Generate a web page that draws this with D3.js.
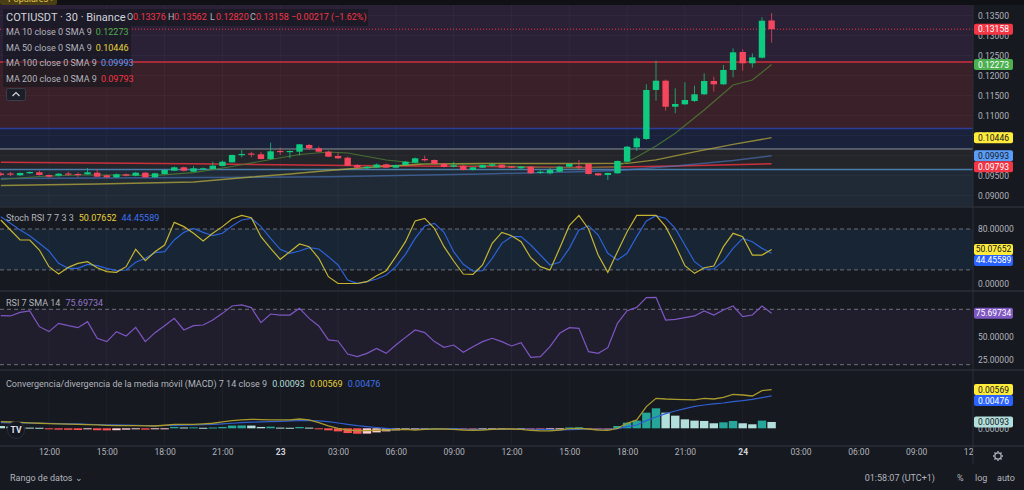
<!DOCTYPE html>
<html>
<script src="https://cdn.jsdelivr.net/npm/d3@7"></script>
<style>
  body, html { margin: 0; padding: 0; background: #16191f; }
  svg { display: block; font-family: Roboto, "Noto Sans", sans-serif; }
</style>
<body>
<svg width="1024" height="490"></svg>
<script>

// 30 min bars, 22 09:30 -> 24 01:30
var barStart = new Date(2023, 0, 22, 9, 30);

var opens = [0.09550,0.09550,0.09505,0.09555,0.09580,0.09513,0.09495,0.09550,0.09538,0.09530,
  0.09570,0.09505,0.09455,0.09530,0.09495,0.09570,0.09455,0.09538,0.09620,0.09705,
  0.09595,0.09655,0.09663,0.09738,0.09830,0.10013,0.10050,0.10030,0.09913,0.10113,
  0.10088,0.10095,0.10263,0.10180,0.10095,0.09988,0.09945,0.09763,0.09680,0.09700,
  0.09780,0.09695,0.09763,0.09820,0.09913,0.09888,0.09795,0.09720,0.09745,0.09638,
  0.09695,0.09745,0.09770,0.09730,0.09680,0.09720,0.09580,0.09555,0.09595,0.09720,
  0.09730,0.09788,0.09555,0.09513,0.09555,0.09845,0.10205,0.10413,0.11638,0.11870,
  0.11220,0.11280,0.11363,0.11530,0.11863,0.11780,0.12138,0.12588,0.12305,0.12445,
  0.13376];
var highs = [0.09588,0.09588,0.09575,0.09600,0.09625,0.09525,0.09563,0.09595,0.09575,0.09688,
  0.09663,0.09525,0.09550,0.09550,0.09588,0.09588,0.09570,0.09663,0.09725,0.09725,
  0.09738,0.09700,0.09845,0.09875,0.10025,0.10138,0.10095,0.10088,0.10320,0.10195,
  0.10125,0.10288,0.10288,0.10225,0.10125,0.10063,0.09975,0.09788,0.09738,0.09800,
  0.09800,0.09775,0.09863,0.09950,0.09995,0.09900,0.09813,0.09845,0.09763,0.09720,
  0.09775,0.09805,0.09788,0.09738,0.09738,0.09738,0.09638,0.09688,0.09738,0.09800,
  0.09888,0.09800,0.09563,0.09575,0.09875,0.10238,0.10470,0.11780,0.12370,0.11900,
  0.11680,0.11830,0.11745,0.12055,0.11970,0.12263,0.12680,0.12655,0.12555,0.13455,
  0.13562];
var lows = [0.09488,0.09488,0.09488,0.09538,0.09500,0.09450,0.09475,0.09488,0.09455,0.09525,
  0.09463,0.09438,0.09438,0.09475,0.09480,0.09438,0.09445,0.09525,0.09613,0.09600,
  0.09588,0.09638,0.09650,0.09725,0.09820,0.09955,0.09955,0.09900,0.09900,0.10013,
  0.09930,0.10000,0.10138,0.10075,0.09963,0.09913,0.09738,0.09688,0.09663,0.09688,
  0.09688,0.09680,0.09750,0.09813,0.09845,0.09775,0.09700,0.09705,0.09625,0.09625,
  0.09688,0.09720,0.09688,0.09680,0.09663,0.09545,0.09538,0.09525,0.09588,0.09700,
  0.09638,0.09525,0.09488,0.09388,0.09545,0.09838,0.10113,0.10388,0.11370,0.11120,
  0.11055,0.11263,0.11338,0.11513,0.11595,0.11763,0.11955,0.12120,0.12195,0.12425,
  0.12820];
var closes = [0.09513,0.09538,0.09563,0.09588,0.09513,0.09470,0.09545,0.09530,0.09525,0.09580,
  0.09470,0.09455,0.09530,0.09495,0.09570,0.09455,0.09555,0.09638,0.09705,0.09620,
  0.09680,0.09680,0.09745,0.09845,0.10013,0.10038,0.10025,0.09913,0.10105,0.10088,
  0.10113,0.10280,0.10180,0.10095,0.09970,0.09930,0.09745,0.09695,0.09720,0.09775,
  0.09695,0.09763,0.09845,0.09930,0.09880,0.09788,0.09713,0.09755,0.09638,0.09705,
  0.09763,0.09780,0.09695,0.09695,0.09720,0.09555,0.09595,0.09638,0.09720,0.09788,
  0.09720,0.09538,0.09505,0.09563,0.09863,0.10220,0.10430,0.11638,0.11870,0.11220,
  0.11288,0.11388,0.11530,0.11863,0.11780,0.12138,0.12580,0.12305,0.12455,0.13370,
  0.13158];

// moving averages: [bar index, price]
var ma10Pts = [[0,0.09400],[4,0.09475],[8,0.09513],[12,0.09513],[16,0.09505],[20,0.09570],[24,0.09725],
  [28,0.09900],[31,0.10025],[34,0.10088],[36,0.10063],[38,0.09975],[40,0.09888],[44,0.09788],[48,0.09775],
  [52,0.09738],[56,0.09700],[60,0.09688],[64,0.09720],[66,0.09963],[68,0.10238],[70,0.10555],[73,0.11138],
  [76,0.11763],[78,0.11888],[80,0.12273]];
var ma50Pts = [[0,0.09250],[10,0.09288],[20,0.09338],[26,0.09463],[30,0.09538],[34,0.09625],[38,0.09700],
  [44,0.09788],[50,0.09800],[60,0.09800],[65,0.09805],[68,0.09888],[72,0.10088],[76,0.10280],[80,0.10446]];
var ma100Pts = [[0,0.09425],[20,0.09450],[34,0.09470],[50,0.09538],[60,0.09595],[64,0.09625],[70,0.09738],
  [76,0.09875],[80,0.09993]];
var ma200Pts = [[0,0.09830],[20,0.09795],[36,0.09750],[50,0.09725],[60,0.09700],[70,0.09738],[80,0.09793]];

// drawn horizontal levels and the zones between them
var drawnLevels = [0.12338, 0.10675, 0.10163, 0.09650];
var levelColors = ['#d12f3c', '#2d3c96', '#8d9098', '#4a7ca8'];
var zoneColors = ['#2a2137', '#3a2028', '#19223a', '#23252b', '#1f2a36'];

var stochK = [93.2,78.6,63.9,63.9,49.2,24.7,13.9,23.7,29.6,32.0,
  23.2,17.4,16.4,24.7,50.2,33.5,46.7,56.5,89.8,83.5,
  73.7,62.4,73.7,83.5,94.7,100,96.7,68.8,51.6,35.5,
  46.7,58.0,54.1,37.0,10.0,0,0,0,2.7,11.5,
  18.8,39.4,61.4,91.8,95.7,81.0,54.1,33.0,13.9,13.4,
  27.2,59.0,75.1,70.2,61.4,37.9,24.7,19.8,51.6,84.9,
  100,80.0,41.8,16.4,46.7,76.1,100,100,100,83.5,
  56.5,26.2,14.9,23.2,25.7,54.1,73.7,68.8,41.8,41.8,
  50.08];
var stochD = [98.1,88.4,78.6,70.2,59.0,47.7,29.6,22.3,22.3,28.1,
  26.2,22.3,18.8,19.8,31.1,37.0,45.3,46.7,63.9,75.1,
  81.0,75.1,70.2,73.7,84.4,93.2,95.7,83.5,66.3,50.2,
  44.3,47.7,52.6,50.7,39.4,27.2,5.1,0.2,2.7,6.6,
  12.5,24.7,42.8,66.3,84.4,88.4,75.1,46.7,28.1,18.3,
  18.8,37.0,59.0,68.8,68.8,56.5,41.8,27.2,31.1,51.6,
  78.6,84.9,71.2,44.3,34.5,44.3,68.8,91.8,99.6,95.7,
  81.0,56.5,32.0,21.3,21.3,33.0,51.6,66.3,61.4,51.6,
  44.46];

var rsi = [73.1,72.8,76.7,78.2,61.2,55.8,64.8,62.3,60.1,66.6,
  48.6,45.0,55.8,51.1,60.5,45.0,54.7,62.3,70.2,57.6,
  62.3,63.0,68.4,75.6,83.6,84.7,81.8,65.5,74.9,73.8,
  73.8,81.1,70.2,61.9,46.8,45.7,31.6,28.7,32.3,37.7,
  32.3,41.3,49.6,57.6,54.7,45.0,38.8,41.3,33.4,39.5,
  45.0,48.6,45.0,40.3,43.9,28.0,28.7,39.5,54.0,60.1,
  59.4,34.1,32.3,38.4,64.8,78.5,82.1,92.6,93.0,68.4,
  69.1,70.9,72.8,78.2,73.8,79.3,83.6,72.0,73.8,83.6,
  75.70];

var macdLine = [0.00098,0.00093,0.00088,0.00081,0.00074,0.00069,0.00064,0.00061,0.00059,0.00054,
  0.00049,0.00044,0.00039,0.00039,0.00039,0.00036,0.00034,0.00045,0.00059,0.00059,
  0.00059,0.00066,0.00074,0.00093,0.00113,0.00123,0.00132,0.00128,0.00123,0.00123,
  0.00123,0.00137,0.00123,0.00083,0.00034,0,-0.00025,-0.00034,-0.00034,-0.00029,
  -0.00025,-0.0002,-0.00015,-0.00025,-0.00015,-0.0001,-0.0001,-0.00015,-0.00025,-0.00029,
  -0.00025,-0.00015,-0.0001,-0.0001,-0.00015,-0.00029,-0.00039,-0.00039,-0.00025,-0.00005,
  0,-0.0001,-0.00025,-0.00029,0,0.00074,0.00123,0.00319,0.00441,0.00431,
  0.00426,0.00421,0.00417,0.00441,0.00431,0.00456,0.005,0.0049,0.00475,0.00554,
  0.00569];
var macdSignal = [0.00083,0.00081,0.00078,0.00076,0.00074,0.00071,0.00069,0.00066,0.00064,0.00059,
  0.00056,0.00052,0.00049,0.00046,0.00043,0.00041,0.00039,0.00041,0.00044,0.00046,
  0.00049,0.00054,0.00059,0.00066,0.00074,0.00083,0.0009,0.00095,0.00098,0.00103,
  0.00108,0.00113,0.00113,0.00108,0.00098,0.00078,0.00059,0.0004,0.00025,0.00012,
  0,-0.0001,-0.00015,-0.00015,-0.0001,-0.0001,-0.00005,-0.00005,-0.0001,-0.00015,
  -0.00015,-0.00015,-0.00015,-0.0001,-0.0001,-0.0001,-0.00015,-0.0002,-0.00025,-0.0002,
  -0.00015,-0.0001,-0.0001,-0.00015,-0.00005,0.00025,0.00049,0.00113,0.00167,0.00216,
  0.00255,0.00289,0.00323,0.00343,0.00358,0.00372,0.00392,0.00407,0.00426,0.00451,
  0.00476];
var macdHist = [0.00034,0.00025,0.00015,0.0001,0.00008,-0.00015,-0.0002,-0.00022,-0.00025,-0.00015,
  -0.00028,-0.0003,-0.00028,-0.0002,-0.0001,-0.0002,-0.0001,-0.00003,0.0002,0.00012,
  0.00014,0.00008,0.00012,0.0002,0.0004,0.00042,0.0004,0.0002,0.00024,0.0001,
  0.00008,0.0002,0.0001,-0.00005,-0.0003,-0.00045,-0.0007,-0.0008,-0.00078,-0.0006,
  -0.00045,-0.0003,-0.00015,-0.00008,-0.00003,0.00002,-0.00003,-0.00002,-0.00008,-0.00012,
  -0.0001,-0.00006,-0.00004,-0.00006,-0.00005,-0.00018,-0.00024,-0.0002,-0.00005,0.00012,
  0.00015,-0.00002,-0.00015,-0.00016,0.00034,0.00083,0.00113,0.0023,0.00294,0.0023,
  0.00186,0.00132,0.00113,0.00108,0.00074,0.00088,0.00108,0.00074,0.00059,0.00113,
  0.00093];

var priceTicks = [0.090, 0.095, 0.100, 0.105, 0.110, 0.115, 0.120, 0.125, 0.130, 0.135];

var svg = d3.select('svg');
var axisX = 973;
var txt = '#b2b5be';
var upColor = '#0ecb81', downColor = '#f6465d';

var times = opens.map(function (d, i) { return d3.timeMinute.offset(barStart, 30 * i); });

var x = d3.scaleTime()
  .domain([new Date(2023, 0, 22, 12), new Date(2023, 0, 24, 0)])
  .range([49, 742.7]);

var panes = {
  main: {top: 5, bottom: 207},
  stoch: {top: 208, bottom: 291},
  rsi: {top: 292, bottom: 370},
  macd: {top: 371, bottom: 446}
};

var yP = d3.scaleLinear().domain([0.09, 0.135]).range([195.5, 15.5]);
var yS = d3.scaleLinear().domain([0, 100]).range([283.5, 215.4]);
var yR = d3.scaleLinear().domain([20, 80]).range([364.7, 309.3]);
var yM = d3.scaleLinear().domain([0, 0.005]).range([428.3, 394.3]);

var defs = svg.append('defs');
Object.keys(panes).forEach(function (k) {
  defs.append('clipPath').attr('id', 'clip-' + k)
    .append('rect').attr('x', 0).attr('y', panes[k].top)
    .attr('width', axisX).attr('height', panes[k].bottom - panes[k].top);
});
defs.append('clipPath').attr('id', 'clip-time')
  .append('rect').attr('x', 0).attr('y', 446).attr('width', axisX).attr('height', 20);
defs.append('clipPath').attr('id', 'clip-top')
  .append('rect').attr('x', 0).attr('y', 0).attr('width', 1024).attr('height', 5);

svg.append('rect').attr('width', 1024).attr('height', 490).attr('fill', '#16191f');

// top strip with cut off tab
var topG = svg.append('g').attr('clip-path', 'url(#clip-top)');
topG.append('rect').attr('width', 1024).attr('height', 5).attr('fill', '#0f1115');
topG.append('rect').attr('x', 0).attr('y', -4).attr('width', 57).attr('height', 9).attr('rx', 2).attr('fill', '#4a3f14');
topG.append('text').attr('x', 8).attr('y', 2).attr('font-size', 9).attr('fill', '#e3c44a').text('Populares ›');

// ---- main pane
var mainG = svg.append('g').attr('clip-path', 'url(#clip-main)');

var zoneEdges = [0.2].concat(drawnLevels).concat([0.05]);
zoneColors.forEach(function (c, i) {
  mainG.append('rect').attr('x', 0).attr('width', axisX)
    .attr('y', yP(zoneEdges[i])).attr('height', yP(zoneEdges[i + 1]) - yP(zoneEdges[i]))
    .attr('fill', c);
});

function vGrid(g, pane) {
  g.selectAll('line.vg').data(x.ticks(d3.timeHour.every(3))).enter().append('line')
    .attr('x1', function (d) { return x(d); }).attr('x2', function (d) { return x(d); })
    .attr('y1', pane.top).attr('y2', pane.bottom)
    .attr('stroke', 'rgba(255,255,255,0.035)');
}
vGrid(mainG, panes.main);
mainG.selectAll('line.hg').data(priceTicks).enter().append('line')
  .attr('x1', 0).attr('x2', axisX)
  .attr('y1', function (d) { return yP(d); }).attr('y2', function (d) { return yP(d); })
  .attr('stroke', 'rgba(255,255,255,0.03)');

drawnLevels.forEach(function (v, i) {
  mainG.append('line').attr('x1', 0).attr('x2', axisX)
    .attr('y1', yP(v)).attr('y2', yP(v))
    .attr('stroke', levelColors[i]).attr('stroke-width', i === 2 ? 1 : 1.5);
});

// last price dotted line
mainG.append('line').attr('x1', 0).attr('x2', axisX)
  .attr('y1', yP(closes[closes.length - 1])).attr('y2', yP(closes[closes.length - 1]))
  .attr('stroke', '#f23645').attr('stroke-width', 1).attr('stroke-dasharray', '1,2');

var maLine = d3.line()
  .x(function (d) { return x(times[d[0]]); })
  .y(function (d) { return yP(d[1]); });

[[ma200Pts, '#e8323f', 0.85, 1.5], [ma100Pts, '#4f79c4', 0.6, 1.5],
 [ma50Pts, '#b5a93c', 0.75, 1.3], [ma10Pts, '#4d7a33', 0.85, 1.2]].forEach(function (m) {
  mainG.append('path').attr('d', maLine(m[0])).attr('fill', 'none')
    .attr('stroke', m[1]).attr('stroke-opacity', m[2]).attr('stroke-width', m[3]);
});

var candle = mainG.selectAll('g.candle').data(opens).enter().append('g');
candle.append('line')
  .attr('x1', function (d, i) { return x(times[i]); })
  .attr('x2', function (d, i) { return x(times[i]); })
  .attr('y1', function (d, i) { return yP(highs[i]); })
  .attr('y2', function (d, i) { return yP(lows[i]); })
  .attr('stroke', function (d, i) { return closes[i] >= d ? upColor : downColor; })
  .attr('stroke-opacity', 0.75);
candle.append('rect')
  .attr('x', function (d, i) { return x(times[i]) - 3.2; })
  .attr('width', 6.4)
  .attr('y', function (d, i) { return Math.min(yP(d), yP(closes[i])); })
  .attr('height', function (d, i) { return Math.max(1.2, Math.abs(yP(d) - yP(closes[i]))); })
  .attr('fill', function (d, i) { return closes[i] >= d ? upColor : downColor; });

// ---- stoch RSI pane
var stG = svg.append('g').attr('clip-path', 'url(#clip-stoch)');
stG.append('rect').attr('x', 0).attr('width', axisX).attr('y', yS(80)).attr('height', yS(20) - yS(80)).attr('fill', '#172535');
vGrid(stG, panes.stoch);
[80, 20].forEach(function (v) {
  stG.append('line').attr('x1', 0).attr('x2', axisX).attr('y1', yS(v)).attr('y2', yS(v))
    .attr('stroke', '#6e717b').attr('stroke-dasharray', '4,3');
});
var idxLine = function (scale) {
  return d3.line().x(function (d, i) { return x(times[i]); }).y(function (d) { return scale(d); });
};
stG.append('path').attr('d', idxLine(yS)(stochD)).attr('fill', 'none').attr('stroke', '#2d62d8').attr('stroke-width', 1.2);
stG.append('path').attr('d', idxLine(yS)(stochK)).attr('fill', 'none').attr('stroke', '#c6b533').attr('stroke-width', 1.2);

// ---- RSI pane
var rG = svg.append('g').attr('clip-path', 'url(#clip-rsi)');
rG.append('rect').attr('x', 0).attr('width', axisX).attr('y', yR(80)).attr('height', yR(20) - yR(80)).attr('fill', '#201d2d');
vGrid(rG, panes.rsi);
[80, 20].forEach(function (v) {
  rG.append('line').attr('x1', 0).attr('x2', axisX).attr('y1', yR(v)).attr('y2', yR(v))
    .attr('stroke', '#6e717b').attr('stroke-dasharray', '4,3');
});
rG.append('path').attr('d', idxLine(yR)(rsi)).attr('fill', 'none').attr('stroke', '#7e57c2').attr('stroke-width', 1.2);

// ---- MACD pane
var mG = svg.append('g').attr('clip-path', 'url(#clip-macd)');
vGrid(mG, panes.macd);
function histColor(d, i) {
  var prev = i > 0 ? macdHist[i - 1] : Infinity;
  if (d >= 0) return d > prev ? '#26a69a' : '#b2dfdb';
  return d < prev || i === 0 ? '#ff5252' : '#ffcdd2';
}
mG.selectAll('rect.h').data(macdHist).enter().append('rect')
  .attr('x', function (d, i) { return x(times[i]) - 4.2; })
  .attr('width', 8.4)
  .attr('y', function (d) { return Math.min(yM(d), yM(0)); })
  .attr('height', function (d) { return Math.max(1, Math.abs(yM(d) - yM(0))); })
  .attr('fill', histColor);
mG.append('path').attr('d', idxLine(yM)(macdSignal)).attr('fill', 'none').attr('stroke', '#2f5fd0').attr('stroke-width', 1.2);
mG.append('path').attr('d', idxLine(yM)(macdLine)).attr('fill', 'none').attr('stroke', '#a89a2e').attr('stroke-width', 1.3);

// TV logo
var logo = svg.append('g').attr('transform', 'translate(16,430)');
logo.append('circle').attr('r', 8.5).attr('fill', '#131722').attr('stroke', '#2a2e39');
logo.append('text').attr('text-anchor', 'middle').attr('dy', '0.36em').attr('font-size', 8.5)
  .attr('font-weight', 'bold').attr('fill', '#e0e3eb').text('TV');

// ---- separators
[207, 291, 370, 446].forEach(function (y) {
  svg.append('line').attr('x1', 0).attr('x2', 1024).attr('y1', y).attr('y2', y).attr('stroke', '#2a2e39').attr('stroke-width', 1.5);
});
svg.append('line').attr('x1', axisX).attr('x2', axisX).attr('y1', 5).attr('y2', 464).attr('stroke', '#2a2e39');

// ---- right axes
function rightAxis(scale, values, fmt) {
  var g = svg.append('g').attr('transform', 'translate(' + axisX + ',0)')
    .call(d3.axisRight(scale).tickValues(values).tickFormat(d3.format(fmt)).tickSize(0).tickPadding(5));
  g.select('.domain').remove();
  g.selectAll('text').attr('fill', txt).attr('font-size', 8.5).attr('font-family', 'Roboto, sans-serif');
}
rightAxis(yP, priceTicks, '.5f');
rightAxis(yS, [0, 80], '.5f');
rightAxis(yR, [25, 50], '.5f');
rightAxis(yM, [0], '.5f');

function tags(list, scale) {
  var last = -Infinity;
  list.forEach(function (t) {
    var y = Math.max(scale(t.v), last + 11);
    last = y;
    svg.append('rect').attr('x', axisX + 1).attr('y', y - 5.5).attr('width', 39).attr('height', 11)
      .attr('rx', 2).attr('fill', t.bg);
    svg.append('text').attr('x', axisX + 20.5).attr('y', y).attr('dy', '0.35em')
      .attr('text-anchor', 'middle').attr('font-size', 8.5).attr('fill', t.fg)
      .text(d3.format(t.f || '.5f')(t.v));
  });
}
tags([{v: closes[closes.length - 1], bg: '#f23645', fg: '#fff'}], yP);
tags([{v: ma10Pts[ma10Pts.length - 1][1], bg: '#4caf50', fg: '#fff'}], yP);
tags([{v: ma50Pts[ma50Pts.length - 1][1], bg: '#ffeb3b', fg: '#131722'},
      {v: ma100Pts[ma100Pts.length - 1][1], bg: '#5b9cf6', fg: '#131722'},
      {v: ma200Pts[ma200Pts.length - 1][1], bg: '#f23645', fg: '#fff'}], yP);
tags([{v: 50.07652, bg: '#ffeb3b', fg: '#131722'}, {v: 44.45589, bg: '#2962ff', fg: '#fff'}], yS);
tags([{v: 75.69734, bg: '#7e57c2', fg: '#fff'}], yR);
tags([{v: macdLine[macdLine.length - 1], bg: '#ffeb3b', fg: '#131722'},
      {v: macdSignal[macdSignal.length - 1], bg: '#2962ff', fg: '#fff'}], yM);
tags([{v: macdHist[macdHist.length - 1], bg: '#b2dfdb', fg: '#131722'}], yM);

// ---- time axis
var timeTicks = d3.timeHour.every(3).range(new Date(2023, 0, 22, 12), new Date(2023, 0, 24, 12, 1));
var tAxis = svg.append('g').attr('clip-path', 'url(#clip-time)').append('g')
  .attr('transform', 'translate(0,449)')
  .call(d3.axisBottom(x).tickValues(timeTicks).tickSize(0).tickPadding(0)
    .tickFormat(function (d) { return d.getHours() === 0 ? d3.timeFormat('%-d')(d) : d3.timeFormat('%H:%M')(d); }));
tAxis.select('.domain').remove();
tAxis.selectAll('text').attr('font-size', 8.5).attr('font-family', 'Roboto, sans-serif')
  .attr('fill', function (d) { return d.getHours() === 0 ? '#d1d4dc' : txt; })
  .attr('font-weight', function (d) { return d.getHours() === 0 ? 'bold' : 'normal'; });

// gear icon
var gear = svg.append('g').attr('transform', 'translate(998,456)');
gear.append('circle').attr('r', 3.2).attr('fill', 'none').attr('stroke', txt).attr('stroke-width', 1.2);
d3.range(8).forEach(function (k) {
  var a = k * Math.PI / 4;
  gear.append('line').attr('x1', Math.cos(a) * 3.6).attr('y1', Math.sin(a) * 3.6)
    .attr('x2', Math.cos(a) * 5).attr('y2', Math.sin(a) * 5).attr('stroke', txt).attr('stroke-width', 1.3);
});

// ---- bottom bar
function label(xp, yp, s, size, fill, anchor) {
  return svg.append('text').attr('x', xp).attr('y', yp).attr('dy', '0.35em')
    .attr('font-size', size).attr('fill', fill).attr('text-anchor', anchor || 'start').text(s);
}
label(10, 478, 'Rango de datos ⌄', 9, txt);
label(935, 478, '01:58:07 (UTC+1)', 9, txt, 'end');
label(957, 478, '%', 9, txt);
label(975, 478, 'log', 9, txt);
label(997, 478, 'auto', 9, txt);

// ---- legends
svg.append('rect').attr('x', 3).attr('y', 9).attr('width', 365).attr('height', 17).attr('fill', 'rgba(19,22,30,0.55)');
svg.append('rect').attr('x', 3).attr('y', 26).attr('width', 128).attr('height', 61).attr('fill', 'rgba(19,22,30,0.55)');
label(6, 17, 'COTIUSDT · 30 · Binance', 11, '#d1d4dc');
var red = '#f23645';
[['O', 127, '0.13376'], ['H', 168, '0.13562'], ['L', 210, '0.12820'], ['C', 250, '0.13158']].forEach(function (o) {
  label(o[1], 17, o[0], 9, txt);
  label(o[1] + 6, 17, o[2], 9, red);
});
label(291, 17, '−0.00217 (−1.62%)', 9, red);

[['MA 10 close 0 SMA 9', ma10Pts, '#4caf50', 32],
 ['MA 50 close 0 SMA 9', ma50Pts, '#e6d23c', 48],
 ['MA 100 close 0 SMA 9', ma100Pts, '#5b9cf6', 63],
 ['MA 200 close 0 SMA 9', ma200Pts, '#f23645', 79]].forEach(function (m) {
  var t = label(6, m[3], m[0], 9, txt);
  t.append('tspan').attr('dx', 4).attr('fill', m[2]).text(d3.format('.5f')(m[1][m[1].length - 1][1]));
});
svg.append('rect').attr('x', 6.5).attr('y', 88.5).attr('width', 19).attr('height', 12).attr('rx', 2)
  .attr('fill', '#1c1f27').attr('stroke', '#3a3e4a');
svg.append('path').attr('d', 'M12.5,96 L16,92.5 L19.5,96').attr('fill', 'none').attr('stroke', '#d1d4dc').attr('stroke-width', 1.2);

var st = label(6, 218, 'Stoch RSI 7 7 3 3', 9, txt);
st.append('tspan').attr('dx', 5).attr('fill', '#e6d23c').text('50.07652');
st.append('tspan').attr('dx', 5).attr('fill', '#3d72f0').text('44.45589');
var rs = label(6, 303, 'RSI 7 SMA 14', 9, txt);
rs.append('tspan').attr('dx', 5).attr('fill', '#9575cd').text('75.69734');
var mc = label(6, 384, 'Convergencia/divergencia de la media móvil (MACD) 7 14 close 9', 9, txt);
mc.append('tspan').attr('dx', 5).attr('fill', '#b2dfdb').text('0.00093');
mc.append('tspan').attr('dx', 5).attr('fill', '#e6d23c').text('0.00569');
mc.append('tspan').attr('dx', 5).attr('fill', '#3d72f0').text('0.00476');

</script>
</body>
</html>
